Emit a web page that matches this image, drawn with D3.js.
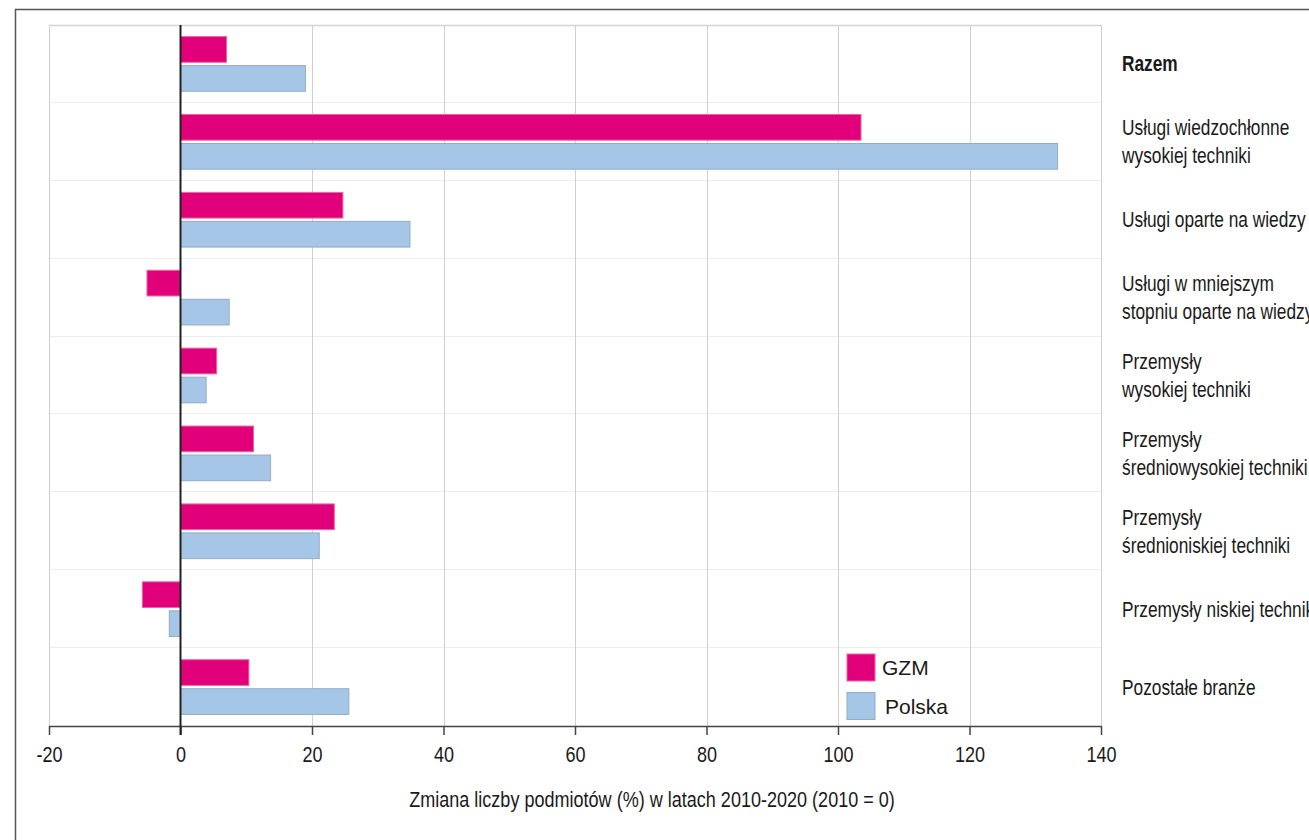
<!DOCTYPE html>
<html>
<head>
<meta charset="utf-8">
<script src="https://cdn.jsdelivr.net/npm/d3@7"></script>
<style>
  html, body { margin: 0; padding: 0; background: #ffffff; overflow: hidden; }
  svg { display: block; }
  text { font-family: "Liberation Sans", Arial, sans-serif; fill: #1a1a1a; }
</style>
</head>
<body>
<svg id="chart" width="1309" height="840"></svg>
<script>
const categories = [
  ["Razem"],
  ["Usługi wiedzochłonne", "wysokiej techniki"],
  ["Usługi oparte na wiedzy"],
  ["Usługi w mniejszym", "stopniu oparte na wiedzy"],
  ["Przemysły", "wysokiej techniki"],
  ["Przemysły", "średniowysokiej techniki"],
  ["Przemysły", "średnioniskiej techniki"],
  ["Przemysły niskiej techniki"],
  ["Pozostałe branże"]
];
const seriesNames = ["GZM", "Polska"];
const gzmValues    = [7.0, 103.5, 24.7, -5.1, 5.5, 11.1, 23.4, -5.8, 10.4];
const polskaValues = [19.0, 133.4, 34.9, 7.4, 3.9, 13.7, 21.1, -1.7, 25.6];
const xTicks = [-20, 0, 20, 40, 60, 80, 100, 120, 140];
const axisTitle = "Zmiana liczby podmiotów (%) w latach 2010-2020 (2010 = 0)";

const colors = { GZM: "#e2007a", Polska: "#a5c6e7" };
const strokes = { GZM: "#e766a6", Polska: "#93abc4" };
const NARROW = 0.82;       // emulate Arial Narrow by horizontal compression
const NARROW_LABEL = 0.805;

const svg = d3.select("#chart");

// outer frame
svg.append("rect")
  .attr("x", 15.5).attr("y", 9.5)
  .attr("width", 1320).attr("height", 850)
  .attr("fill", "none").attr("stroke", "#555").attr("stroke-width", 1.5);

const plot = { left: 49, right: 1101, top: 25, bottom: 726 };

const x = d3.scaleLinear().domain([-20, 140]).range([plot.left, plot.right]);
const catKeys = categories.map((c, i) => String(i));
const y = d3.scaleBand().domain(catKeys).range([plot.top, plot.bottom]).paddingInner(0).paddingOuter(0);
const ySub = d3.scaleBand().domain(seriesNames).range([0, y.bandwidth()]).paddingInner(0.114).paddingOuter(0.4);

const data = categories.map((c, i) => ({ key: String(i), label: c, GZM: gzmValues[i], Polska: polskaValues[i] }));

const g = svg.append("g");

// horizontal separators
g.selectAll("line.sep").data(catKeys.slice(1)).enter().append("line")
  .attr("class", "sep")
  .attr("x1", plot.left).attr("x2", plot.right)
  .attr("y1", d => Math.round(y(d)) - 0.5).attr("y2", d => Math.round(y(d)) - 0.5)
  .attr("stroke", "#ededed").attr("stroke-width", 1);

// top border of plot
g.append("line")
  .attr("x1", plot.left).attr("x2", plot.right)
  .attr("y1", plot.top + 0.5).attr("y2", plot.top + 0.5)
  .attr("stroke", "#d4d4d4").attr("stroke-width", 1.5);

// vertical gridlines
g.selectAll("line.grid").data(xTicks.filter(t => t !== 0)).enter().append("line")
  .attr("class", "grid")
  .attr("x1", d => Math.round(x(d)) + 0.5).attr("x2", d => Math.round(x(d)) + 0.5)
  .attr("y1", plot.top).attr("y2", plot.bottom)
  .attr("stroke", "#d0d0d0").attr("stroke-width", 1);

// bars
const rows = g.selectAll("g.row").data(data).enter().append("g")
  .attr("class", "row")
  .attr("transform", d => `translate(0,${y(d.key)})`);

rows.selectAll("rect").data(d => seriesNames.map(s => ({ s, v: d[s] }))).enter().append("rect")
  .attr("x", d => x(Math.min(0, d.v)))
  .attr("y", d => ySub(d.s))
  .attr("width", d => Math.abs(x(d.v) - x(0)))
  .attr("height", ySub.bandwidth())
  .attr("fill", d => colors[d.s])
  .attr("stroke", d => strokes[d.s])
  .attr("stroke-width", 1);

// x axis
const axis = d3.axisBottom(x).tickValues(xTicks).tickSize(9).tickSizeOuter(0)
  .tickFormat(d3.format("d"));
const ax = svg.append("g").attr("transform", `translate(0,${plot.bottom})`).call(axis);
ax.select(".domain").attr("stroke", "#444").attr("stroke-width", 1.5);
ax.selectAll(".tick line").attr("stroke", "#444").attr("stroke-width", 1.5);
ax.selectAll(".tick text")
  .attr("font-size", 22).attr("fill", "#1a1a1a")
  .style("font-family", "\"Liberation Sans\", Arial, sans-serif")
  .attr("y", 36).attr("dy", 0)
  .attr("transform", `scale(${NARROW},1)`)
  .text(d => d < 0 ? "-" + Math.abs(d) : d);

// zero line
svg.append("line")
  .attr("x1", x(0)).attr("x2", x(0))
  .attr("y1", plot.top).attr("y2", plot.bottom + 9)
  .attr("stroke", "#222").attr("stroke-width", 2);

// axis title
svg.append("g").attr("transform", `translate(652,807) scale(${NARROW},1)`)
  .append("text")
  .attr("text-anchor", "middle")
  .attr("font-size", 22)
  .text(axisTitle);

// category labels at right
const labelX = 1122;
const lineH = 28;
const labels = svg.append("g").attr("transform", `translate(${labelX},0) scale(${NARROW_LABEL},1)`);
data.forEach((d, i) => {
  const cy = y(d.key) + y.bandwidth() / 2;
  const n = d.label.length;
  const t = labels.append("text")
    .attr("x", 0)
    .attr("font-size", 21.5)
    .attr("font-weight", i === 0 ? "bold" : "normal");
  d.label.forEach((line, j) => {
    t.append("tspan")
      .attr("x", 0)
      .attr("y", cy + (j - (n - 1) / 2) * lineH)
      .attr("dy", "0.35em")
      .text(line);
  });
});

// legend
const legend = svg.append("g").attr("transform", "translate(847,654)");
seriesNames.forEach((s, i) => {
  const lg = legend.append("g").attr("transform", `translate(0,${i * 38.5})`);
  lg.append("rect").attr("width", 28).attr("height", 27)
    .attr("fill", colors[s]).attr("stroke", strokes[s]).attr("stroke-width", 1);
  lg.append("text").attr("x", s === "GZM" ? 35 : 38).attr("y", 13.5).attr("dy", "0.36em")
    .attr("font-size", 21).text(s);
});
</script>
</body>
</html>
